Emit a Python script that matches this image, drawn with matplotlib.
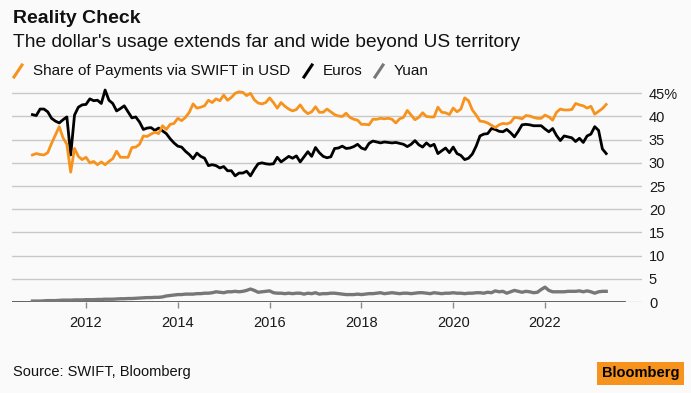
import matplotlib.pyplot as plt
from matplotlib.lines import Line2D
from matplotlib.patches import Rectangle
import numpy as np

plt.rcParams['font.family'] = ['Liberation Sans', 'DejaVu Sans']

# Monthly shares of SWIFT payments (%), starting Nov 2010
start_year = 2010 + 10 / 12

usd = [
    31.7, 32.0, 31.8, 31.7, 32.2, 34.2, 36.0, 37.8, 35.4, 34.0,
    28.0, 33.1, 31.4, 30.7, 31.2, 30.0, 30.3, 29.6, 30.2, 29.6,
    30.3, 30.9, 32.5, 31.2, 31.2, 31.2, 33.3, 33.4, 34.0, 35.8,
    35.7, 36.2, 36.6, 36.3, 38.0, 37.2, 38.3, 38.5, 39.6, 39.1,
    39.8, 40.9, 42.7, 41.8, 42.0, 42.3, 43.5, 43.0, 43.8, 43.4,
    44.6, 43.5, 44.1, 45.0, 45.3, 45.2, 44.5, 45.0, 43.6, 42.9,
    42.7, 43.0, 44.0, 43.0, 41.8, 43.0, 42.2, 41.6, 41.2, 41.5,
    42.5, 41.3, 40.6, 41.0, 42.1, 40.9, 40.9, 41.6, 41.0, 40.4,
    40.1, 40.0, 40.7, 39.8, 39.4, 39.2, 38.3, 38.3, 38.2, 39.4,
    39.4, 39.6, 39.5, 39.6, 39.4, 38.6, 39.5, 39.8, 41.3, 40.3,
    39.3, 39.8, 40.8, 40.0, 39.9, 39.9, 42.0, 40.9, 40.8, 40.4,
    41.8, 41.0, 41.6, 44.0, 43.4, 41.4, 40.3, 39.0, 38.9, 38.6,
    38.1, 37.6, 38.2, 38.5, 38.4, 38.7, 39.8, 39.7, 39.5, 40.2,
    40.1, 39.8, 39.6, 39.6, 40.3, 39.9, 39.2, 40.9, 41.6, 41.4,
    41.4, 41.5, 42.8, 42.5, 42.3, 41.8, 42.2, 40.5, 41.1, 41.7, 42.6,
]

eur = [
    40.4, 40.2, 41.6, 41.6, 41.0, 39.6, 39.0, 38.6, 39.3, 39.9,
    31.7, 40.3, 42.0, 42.5, 42.6, 43.8, 43.4, 43.5, 42.8, 45.7,
    43.5, 42.8, 41.2, 41.7, 42.3, 41.0, 39.7, 39.9, 38.8, 37.2,
    37.5, 37.6, 37.0, 37.5, 36.9, 36.3, 35.2, 34.3, 33.6, 33.4,
    32.5, 31.8, 30.9, 32.1, 31.4, 31.0, 29.4, 29.6, 29.4, 28.9,
    29.2, 28.3, 28.3, 27.2, 27.8, 27.8, 28.2, 27.2, 28.6, 29.8,
    30.0, 29.8, 29.7, 29.8, 31.2, 30.2, 30.8, 31.4, 31.0, 31.5,
    30.2, 31.3, 32.4, 31.4, 33.3, 32.2, 31.4, 31.1, 31.3, 33.1,
    33.2, 33.6, 33.1, 33.2, 33.5, 34.0, 33.2, 32.9, 34.2, 34.7,
    34.5, 34.3, 34.5, 34.4, 34.3, 34.4, 34.2, 34.0, 33.5, 34.0,
    34.8, 33.9, 33.4, 34.3, 33.6, 34.0, 32.0, 32.6, 33.2, 32.2,
    33.4, 32.0, 31.6, 30.7, 31.0, 31.9, 33.6, 35.8, 36.2, 36.3,
    37.4, 37.2, 36.8, 36.7, 37.2, 36.5, 35.6, 36.8, 38.2, 38.3,
    38.2, 38.0, 38.0, 38.0, 37.3, 36.7, 37.4, 35.9, 34.8, 35.8,
    35.6, 35.4, 34.6, 35.3, 34.4, 35.8, 36.2, 37.8, 37.0, 33.0, 32.0,
]

cny = [
    0.2, 0.2, 0.2, 0.25, 0.3, 0.3, 0.3, 0.35, 0.4, 0.4,
    0.4, 0.45, 0.45, 0.45, 0.5, 0.5, 0.5, 0.55, 0.55, 0.6,
    0.6, 0.6, 0.65, 0.7, 0.7, 0.75, 0.75, 0.8, 0.85, 0.9,
    0.95, 0.95, 1.0, 1.0, 1.1, 1.3, 1.4, 1.5, 1.6, 1.6,
    1.7, 1.7, 1.7, 1.8, 1.8, 1.9, 1.9, 2.0, 2.2, 2.1,
    2.0, 2.2, 2.2, 2.3, 2.2, 2.3, 2.5, 2.8, 2.5, 2.1,
    2.2, 2.3, 2.4, 2.0, 1.9, 1.9, 1.8, 1.9, 1.8, 1.9,
    1.9, 1.7, 1.9, 1.8, 2.0, 1.7, 1.8, 1.8, 1.9, 1.9,
    1.8, 1.7, 1.6, 1.6, 1.6, 1.7, 1.6, 1.7, 1.8, 1.8,
    1.9, 2.0, 1.8, 1.9, 2.0, 1.9, 1.8, 1.9, 1.9, 1.8,
    1.9, 2.0, 2.0, 1.9, 1.8, 2.0, 1.9, 1.8, 1.9, 1.9,
    2.0, 1.9, 1.9, 1.8, 1.9, 1.9, 2.0, 2.0, 1.9, 2.1,
    2.0, 2.4, 2.2, 2.3, 1.9, 2.2, 2.5, 2.3, 2.1, 2.3,
    2.2, 2.0, 2.1, 2.7, 3.2, 2.5, 2.2, 2.2, 2.2, 2.2,
    2.3, 2.3, 2.3, 2.4, 2.2, 2.4, 2.2, 1.9, 2.2, 2.3, 2.3,
]

year_ticks = [2012, 2014, 2016, 2018, 2020, 2022]
y_ticks = [0, 5, 10, 15, 20, 25, 30, 35, 40, 45]
y_labels = ['0', '5', '10', '15', '20', '25', '30', '35', '40', '45%']

ORANGE = '#f7931c'
BLACK = '#000000'
GRAY = '#777777'
BG = '#fafafa'

x = start_year + np.arange(len(usd)) / 12

W, H = 691, 393
fig = plt.figure(figsize=(W / 100, H / 100), dpi=100)
fig.patch.set_facecolor(BG)

ax = fig.add_axes([12 / W, 1 - 302 / H, 630 / W, (302 - 84) / H])
ax.set_facecolor(BG)
ax.set_xlim(2010.388, 2024.113)
ax.set_ylim(0, 47)

ax.set_yticks(y_ticks)
ax.set_yticklabels(y_labels)
ax.set_xticks(year_ticks)
ax.set_xticklabels([str(y) for y in year_ticks])
ax.yaxis.tick_right()
ax.grid(axis='y', color='#c8c8c8', linewidth=1)
ax.set_axisbelow(True)
ax.tick_params(axis='y', length=0, pad=5, labelsize=10.5, labelcolor='#1a1a1a')
ax.tick_params(axis='x', length=4, width=1, color='#8a8a8a', pad=6,
               labelsize=10.5, labelcolor='#1a1a1a')
for s in ax.spines.values():
    s.set_visible(False)

ax.axhline(0, xmin=0, xmax=(625 - 12) / 630, color='#4a4a4a', linewidth=1.2, zorder=2.5)

ax.plot(x, cny, color=GRAY, linewidth=2.4, zorder=3, solid_joinstyle='round')
ax.plot(x, eur, color=BLACK, linewidth=2.0, zorder=4, solid_joinstyle='round')
ax.plot(x, usd, color=ORANGE, linewidth=2.0, zorder=5, solid_joinstyle='round')

# titles
fig.text(13 / W, 1 - 23 / H, 'Reality Check', fontsize=14, fontweight='bold',
         color='#111111', va='baseline')
fig.text(13 / W, 1 - 47 / H, "The dollar's usage extends far and wide beyond US territory",
         fontsize=13.8, color='#111111', va='baseline')

# legend
legend_items = [(14, 'Share of Payments via SWIFT in USD', ORANGE),
                (304, 'Euros', BLACK),
                (375, 'Yuan', GRAY)]
for px, label, col in legend_items:
    fig.add_artist(Line2D([px / W, (px + 8) / W], [1 - 77 / H, 1 - 65 / H],
                          color=col, linewidth=2.2, transform=fig.transFigure))
    fig.text((px + 19) / W, 1 - 75 / H, label, fontsize=11, color='#111111',
             va='baseline')

# footer
fig.text(13 / W, 1 - 376 / H, 'Source: SWIFT, Bloomberg', fontsize=10.5,
         color='#111111', va='baseline')
fig.add_artist(Rectangle((597 / W, 1 - 385 / H), 87 / W, 23 / H,
                         facecolor=ORANGE, edgecolor='none', transform=fig.transFigure))
fig.text(640.5 / W, 1 - 373.5 / H, 'Bloomberg', fontsize=10.5, fontweight='bold',
         color='#000000', ha='center', va='center')

fig.savefig('out.png', dpi=100, facecolor=BG)
